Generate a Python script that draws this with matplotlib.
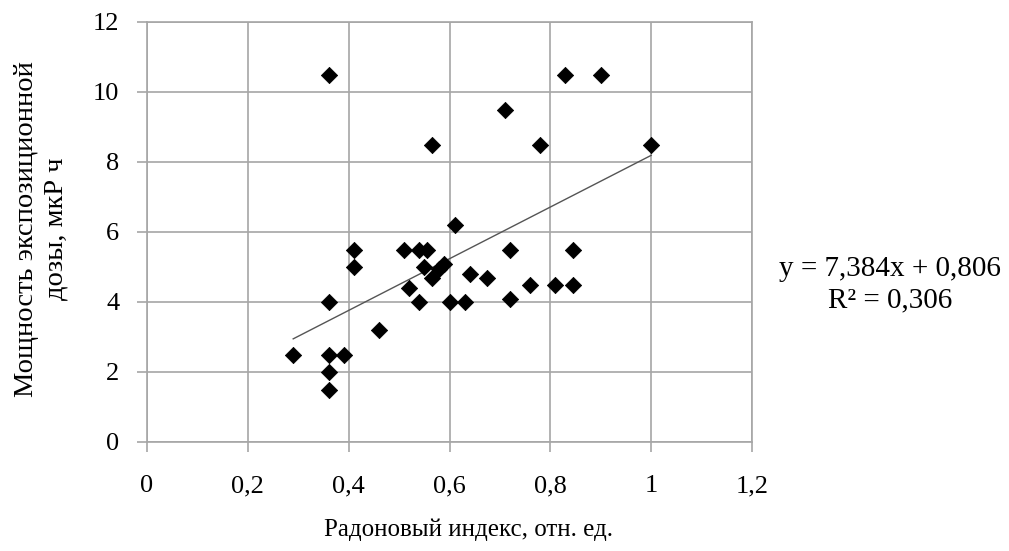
import matplotlib
matplotlib.use("Agg")
import matplotlib.pyplot as plt
from matplotlib.ticker import FuncFormatter

# radon index (rel. units) vs exposure dose rate
radon_index = [0.29, 0.36, 0.39, 0.36, 0.36, 0.36, 0.41, 0.41, 0.46,
               0.51, 0.54, 0.555, 0.55, 0.59, 0.58, 0.565, 0.52, 0.54,
               0.60, 0.63, 0.61, 0.64, 0.675, 0.72, 0.72, 0.76, 0.81,
               0.845, 0.845, 0.36, 0.71, 0.565, 0.83, 0.90, 0.78, 1.0]
dose_rate = [2.5, 2.5, 2.5, 2.0, 1.5, 4.0, 5.5, 5.0, 3.2,
             5.5, 5.5, 5.5, 5.0, 5.1, 4.95, 4.7, 4.4, 4.0,
             4.0, 4.0, 6.2, 4.8, 4.7, 5.5, 4.1, 4.5, 4.5,
             5.5, 4.5, 10.5, 9.5, 8.5, 10.5, 10.5, 8.5, 8.5]
slope = 7.384
intercept = 0.806
r2 = 0.306

x_ticks = [0, 0.2, 0.4, 0.6, 0.8, 1.0, 1.2]
y_ticks = [0, 2, 4, 6, 8, 10, 12]

plt.rcParams['font.family'] = ['Liberation Serif', 'DejaVu Serif']
plt.rcParams['font.size'] = 19

fig = plt.figure(figsize=(10.09, 5.51), dpi=100)
ax = fig.add_axes([147 / 1009, 1 - 442 / 551, 605 / 1009, 420 / 551])

grid_col = '#a6a6a6'
ax.set_xlim(0, 1.2)
ax.set_ylim(0, 12)
ax.set_xticks(x_ticks)
ax.set_yticks(y_ticks)
ax.grid(True, color=grid_col, linewidth=1.2)
ax.set_axisbelow(True)
for s in ax.spines.values():
    s.set_color(grid_col)
    s.set_linewidth(1.2)
ax.tick_params(direction='out', length=7, width=1.2, color=grid_col, pad=13)
ax.tick_params(axis='x', pad=17)

fmt = FuncFormatter(lambda v, p: '{:g}'.format(v).replace('.', ','))
ax.xaxis.set_major_formatter(fmt)
ax.yaxis.set_major_formatter(fmt)

ax.scatter(radon_index, dose_rate, marker='D', s=68, color='black',
           edgecolors='black', linewidths=0.6, zorder=3)

# linear trend
x0, x1 = min(radon_index), max(radon_index)
ax.plot([x0, x1], [slope * x0 + intercept, slope * x1 + intercept],
        color='#555555', linewidth=1, zorder=2)

eq = 'y = {}x + {}\nR² = {}'.format(slope, intercept, r2).replace('.', ',')
fig.text(890 / 1009, 1 - 285 / 551, eq, ha='center', va='center',
         multialignment='center', linespacing=1.25, fontsize=21)

fig.text(41 / 1009, 1 - 229 / 551, 'Мощность экспозиционной\nдозы, мкР ч',
         rotation=90, ha='center', va='center', multialignment='center',
         linespacing=1.25, fontsize=20.5)
fig.text(468 / 1009, 1 - 530 / 551, 'Радоновый индекс, отн. ед.',
         ha='center', va='center', fontsize=18)

fig.savefig('out.png', dpi=100)
